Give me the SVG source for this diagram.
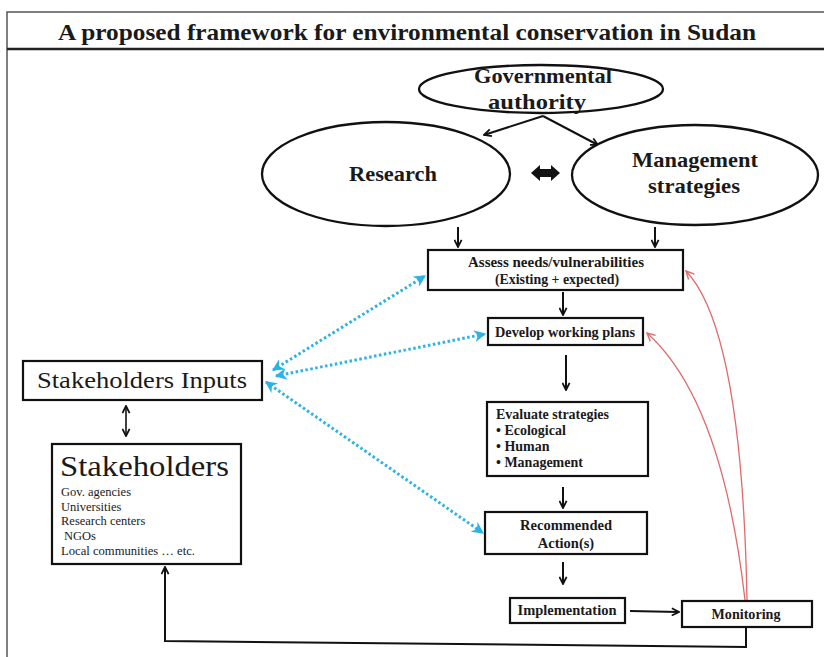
<svg xmlns="http://www.w3.org/2000/svg" width="824" height="657" viewBox="0 0 824 657">
<defs>
<style>
.b{font-family:"Liberation Serif","DejaVu Serif",serif;font-weight:bold;fill:#1a1a1a}
.r{font-family:"Liberation Serif","DejaVu Serif",serif;fill:#1a1a1a}
.box{fill:#fff;stroke:#111;stroke-width:2.2}
.ell{fill:#fff;stroke:#111;stroke-width:2.3}
.ar{fill:none;stroke:#111;stroke-width:2}
.blue{fill:none;stroke:#2bb3e6;stroke-width:3;stroke-dasharray:2.5 2.5}
.red{fill:none;stroke:#e06a6a;stroke-width:1.3}
</style>
<marker id="ah" viewBox="0 0 10 10" refX="9" refY="5" markerWidth="9" markerHeight="9" orient="auto-start-reverse" markerUnits="userSpaceOnUse">
<path d="M1,1 L9,5 L1,9" fill="none" stroke="#111" stroke-width="2"/>
</marker>
<marker id="ahb" viewBox="0 0 10 10" refX="9" refY="5" markerWidth="12" markerHeight="12" orient="auto-start-reverse" markerUnits="userSpaceOnUse">
<path d="M0,0 L10,5 L0,10 L3,5 Z" fill="#2bb3e6"/>
</marker>
<marker id="ahr" viewBox="0 0 10 10" refX="9" refY="5" markerWidth="10" markerHeight="10" orient="auto" markerUnits="userSpaceOnUse">
<path d="M1,1 L9,5 L1,9" fill="none" stroke="#e06a6a" stroke-width="1.4"/>
</marker>
</defs>
<rect x="0" y="0" width="824" height="657" fill="#fff"/>
<g id="frame">
<path d="M7,657 V12 H824" fill="none" stroke="#555" stroke-width="1.5"/>
<line x1="7" y1="49" x2="824" y2="49" stroke="#222" stroke-width="2.5"/>
<text class="b" x="407" y="40" font-size="23" text-anchor="middle" textLength="698" lengthAdjust="spacingAndGlyphs">A proposed framework for environmental conservation in Sudan</text>
</g>
<g id="connectors">
<line class="ar" x1="543" y1="116" x2="484" y2="135" marker-end="url(#ah)"/>
<line class="ar" x1="543" y1="116" x2="598" y2="145" marker-end="url(#ah)"/>
<path d="M531,173 L540,165 L540,169 L551,169 L551,165 L560,173 L551,181 L551,177 L540,177 L540,181 Z" fill="#111"/>
<line class="ar" x1="458" y1="227" x2="458" y2="247" marker-end="url(#ah)"/>
<line class="ar" x1="655" y1="227" x2="655" y2="247" marker-end="url(#ah)"/>
<line class="ar" x1="563" y1="292" x2="563" y2="315" marker-end="url(#ah)"/>
<line class="ar" x1="566" y1="355" x2="566" y2="390" marker-end="url(#ah)"/>
<line class="ar" x1="563" y1="487" x2="563" y2="508" marker-end="url(#ah)"/>
<line class="ar" x1="563" y1="562" x2="563" y2="584" marker-end="url(#ah)"/>
<line class="ar" x1="630" y1="611" x2="679" y2="612" stroke-width="2.4" marker-end="url(#ah)"/>
<line x1="126" y1="406" x2="126" y2="436" stroke="#111" stroke-width="1.6" marker-start="url(#ah)" marker-end="url(#ah)"/>
<path class="ar" d="M746,627 V647 L165,641 V567" stroke-width="2.8" marker-end="url(#ah)"/>
<line class="blue" x1="273" y1="370" x2="425" y2="276" marker-start="url(#ahb)" marker-end="url(#ahb)"/>
<line class="blue" x1="276" y1="376" x2="485" y2="334" marker-start="url(#ahb)" marker-end="url(#ahb)"/>
<line class="blue" x1="266" y1="382" x2="483" y2="533" marker-start="url(#ahb)" marker-end="url(#ahb)"/>
<path class="red" d="M747,600 Q742,330 686,271" marker-end="url(#ahr)"/>
<path class="red" d="M745,600 Q722,400 647,333" marker-end="url(#ahr)"/>
</g>
<g id="gov">
<ellipse class="ell" cx="541" cy="89" rx="122" ry="24"/>
<text class="b" x="543" y="83" font-size="22" text-anchor="middle" textLength="138" lengthAdjust="spacingAndGlyphs">Governmental</text>
<text class="b" x="537" y="109" font-size="22" text-anchor="middle" textLength="98" lengthAdjust="spacingAndGlyphs">authority</text>
</g>
<g id="research">
<ellipse class="ell" cx="386" cy="174" rx="124" ry="52"/>
<text class="b" x="393" y="181" font-size="22" text-anchor="middle" textLength="88" lengthAdjust="spacingAndGlyphs">Research</text>
</g>
<g id="management">
<ellipse class="ell" cx="695" cy="175" rx="123" ry="50"/>
<text class="b" x="695" y="167" font-size="22" text-anchor="middle" textLength="126" lengthAdjust="spacingAndGlyphs">Management</text>
<text class="b" x="694" y="193" font-size="22" text-anchor="middle" textLength="92" lengthAdjust="spacingAndGlyphs">strategies</text>
</g>
<g id="assess">
<rect class="box" x="428" y="250" width="255" height="40"/>
<text class="b" x="556" y="267" font-size="14" text-anchor="middle" textLength="176" lengthAdjust="spacingAndGlyphs">Assess needs/vulnerabilities</text>
<text class="b" x="557" y="284" font-size="14" text-anchor="middle" textLength="124" lengthAdjust="spacingAndGlyphs">(Existing + expected)</text>
</g>
<g id="develop">
<rect class="box" x="488" y="318" width="155" height="27"/>
<text class="b" x="565" y="337" font-size="14.5" text-anchor="middle" textLength="140" lengthAdjust="spacingAndGlyphs">Develop working plans</text>
</g>
<g id="evaluate">
<rect class="box" x="487" y="402" width="161" height="74"/>
<text class="b" x="496" y="419" font-size="14" textLength="113" lengthAdjust="spacingAndGlyphs">Evaluate strategies</text>
<text class="b" x="496" y="435" font-size="14">•  Ecological</text>
<text class="b" x="496" y="451" font-size="14">•  Human</text>
<text class="b" x="496" y="467" font-size="14">•  Management</text>
</g>
<g id="recommended">
<rect class="box" x="485" y="512" width="162" height="42"/>
<text class="b" x="566" y="530" font-size="14.5" text-anchor="middle" textLength="92" lengthAdjust="spacingAndGlyphs">Recommended</text>
<text class="b" x="566" y="548" font-size="14.5" text-anchor="middle">Action(s)</text>
</g>
<g id="implementation">
<rect class="box" x="510" y="598" width="115" height="25"/>
<text class="b" x="567" y="615" font-size="14.5" text-anchor="middle" textLength="99" lengthAdjust="spacingAndGlyphs">Implementation</text>
</g>
<g id="monitoring">
<rect class="box" x="682" y="601" width="130" height="26"/>
<text class="b" x="746" y="619" font-size="14.5" text-anchor="middle" textLength="69" lengthAdjust="spacingAndGlyphs">Monitoring</text>
</g>
<g id="stakeholders-inputs">
<rect class="box" x="23" y="361" width="239" height="39"/>
<text class="r" x="142" y="388" font-size="24" text-anchor="middle" textLength="210" lengthAdjust="spacingAndGlyphs">Stakeholders Inputs</text>
</g>
<g id="stakeholders">
<rect class="box" x="52" y="444" width="189" height="120"/>
<text class="r" x="60" y="476" font-size="30" textLength="169" lengthAdjust="spacingAndGlyphs">Stakeholders</text>
<text class="r" x="61" y="496" font-size="12.5">Gov. agencies</text>
<text class="r" x="61" y="511" font-size="12.5">Universities</text>
<text class="r" x="61" y="525" font-size="12.5">Research centers</text>
<text class="r" x="64" y="540" font-size="12.5">NGOs</text>
<text class="r" x="61" y="555" font-size="12.5" textLength="134" lengthAdjust="spacingAndGlyphs">Local communities  … etc.</text>
</g>
</svg>
